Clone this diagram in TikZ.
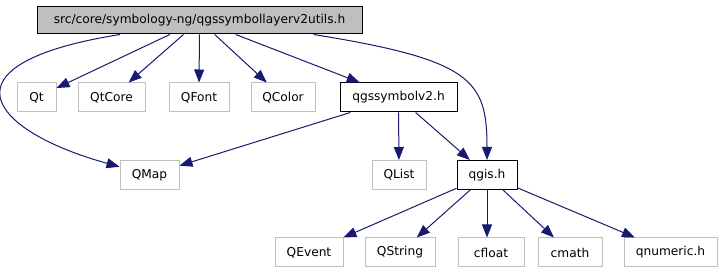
\documentclass[tikz,border=0pt]{standalone}
\usepackage{fontspec}
\setmainfont{DejaVu Sans}
\usepackage{tikz}
\usepackage{xcolor}
\usetikzlibrary{arrows.meta}
\definecolor{edgeblue}{HTML}{191970}
\definecolor{boxgray}{HTML}{BFBFBF}
\tikzset{
  file/.style={draw=boxgray, line width=1pt, minimum height=29pt, inner sep=0pt,
               font=\fontsize{12.2}{14}\selectfont},
  doc/.style={file, draw=black},
  root/.style={file, draw=black, fill=boxgray, minimum height=27pt},
  dep/.style={-{Triangle[length=13pt, width=10pt]}, line width=1pt, draw=edgeblue},
}

\begin{document}
\begin{tikzpicture}[x=1pt, y=-1pt]
  \useasboundingbox (0,0) rectangle (723,272);
  \node[root, minimum width=325pt] (top) at (199.5,20.5)
    {src/core/symbology-ng/qgssymbollayerv2utils.h};
  % first level of includes
  \foreach \n/\x/\w/\t in {qt/36.5/39/Qt, qtcore/111.5/67/QtCore,
                           qfont/199/60/QFont, qcolor/283/64/QColor}
    \node[file, minimum width=\w pt] (\n) at (\x,97.5) {\t};
  \node[doc, minimum width=117pt] (symv2) at (398.5,97.5) {qgssymbolv2.h};
  % second level
  \node[file, minimum width=59pt] (qmap) at (149.5,175) {QMap};
  \node[file, minimum width=54pt] (qlist) at (399,175) {QList};
  \node[doc, minimum width=60pt] (qgis) at (487,175) {qgis.h};
  % included by qgis.h
  \foreach \n/\x/\w/\t in {qevent/309/68/QEvent, qstring/400/70/QString,
                           cfloat/491/66/cfloat, cmath/570/64/cmath,
                           qnum/670.5/93/qnumeric.h}
    \node[file, minimum width=\w pt] (\n) at (\x,252.5) {\t};

  \foreach \n in {qt, qtcore, qfont, qcolor, symv2}
    \draw[dep] (top) -- (\n);
  \draw[dep] (top.190) .. controls (-65,64) and (-10,131) .. (qmap);
  \draw[dep] (top.353) .. controls (472,60) and (487,80) .. (qgis);
  \foreach \n in {qmap, qlist, qgis}
    \draw[dep] (symv2) -- (\n);
  \foreach \n in {qevent, qstring, cmath, qnum}
    \draw[dep] (qgis) -- (\n);
  \draw[dep] (qgis) -- (qgis |- cfloat.north);
\end{tikzpicture}
\end{document}
